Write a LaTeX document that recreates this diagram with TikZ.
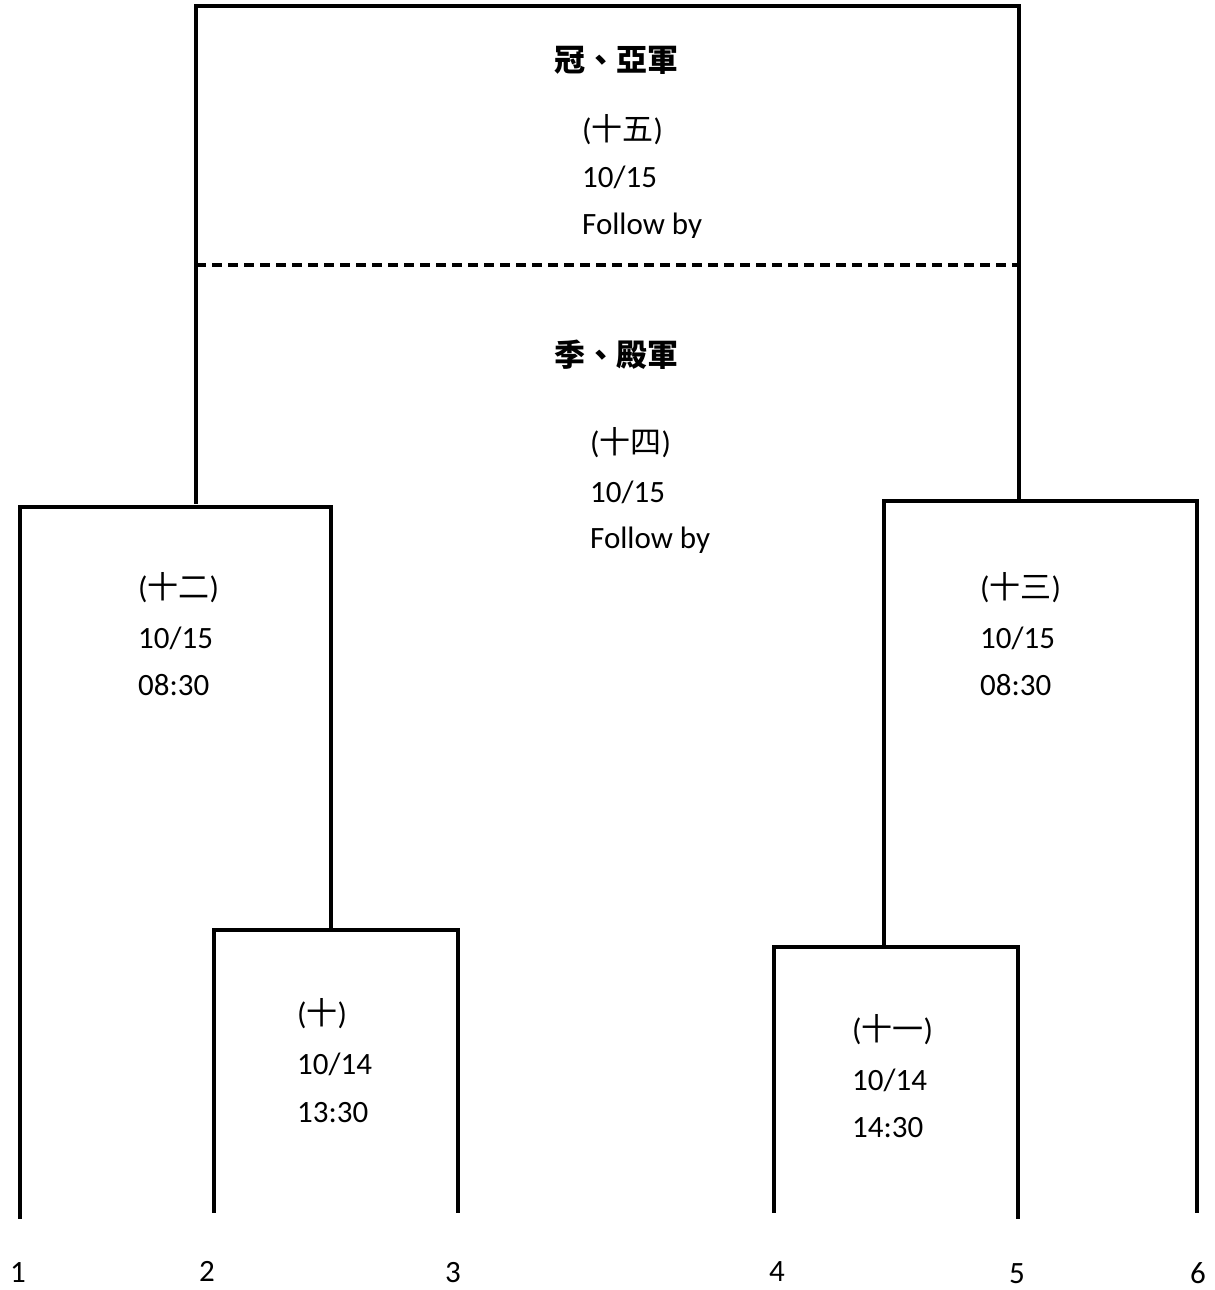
\documentclass[tikz,border=0pt]{standalone}
\usepackage{fontspec}
\setmainfont{Carlito}
\newfontfamily\cjk{Noto Sans CJK TC}
\begin{document}
\begin{tikzpicture}[x=1pt,y=-1pt,
  bline/.style={line width=3.5pt, line cap=rect},
  dline/.style={line width=3.5pt, dash pattern=on 10pt off 6pt},
  txt/.style={anchor=base west, inner sep=0pt, font=\fontsize{31}{48}\selectfont},
  head/.style={anchor=center, inner sep=0pt, font=\fontsize{31}{48}\selectfont\cjk\bfseries},
  lab/.style={anchor=base, inner sep=0pt, font=\fontsize{31}{48}\selectfont}]
\useasboundingbox[fill=white] (0,0) rectangle (1215,1290);

% top bracket
\coordinate (fL) at (196,6);
\coordinate (fR) at (1019,6);
\coordinate (fLb) at (196,502);
\coordinate (fRb) at (1019,499);
\draw[bline] (fLb) -- (fL) -- (fR) -- (fRb);
\coordinate (dL) at (196,265);
\coordinate (dR) at (1019,265);
\draw[dline] (dL) -- (dR);

% left semifinal (12)
\coordinate (a1) at (20,1217);
\coordinate (a2) at (20,507);
\coordinate (a3) at (331,507);
\coordinate (a4) at (331,928);
\draw[bline] (a1) -- (a2) -- (a3) -- (a4);

% match 10
\coordinate (b1) at (214,1211);
\coordinate (b2) at (214,930);
\coordinate (b3) at (458,930);
\coordinate (b4) at (458,1211);
\draw[bline] (b1) -- (b2) -- (b3) -- (b4);

% right semifinal (13)
\coordinate (c1) at (884,946);
\coordinate (c2) at (884,501);
\coordinate (c3) at (1197,501);
\coordinate (c4) at (1197,1211);
\draw[bline] (c1) -- (c2) -- (c3) -- (c4);

% match 11
\coordinate (d1) at (774,1211);
\coordinate (d2) at (774,947);
\coordinate (d3) at (1018,947);
\coordinate (d4) at (1018,1217);
\draw[bline] (d1) -- (d2) -- (d3) -- (d4);

% headings
\node[head] (h1) at (616,60) {冠、亞軍};
\node[head] (h2) at (616,355) {季、殿軍};

% match 15
\node[txt] (t15a) at (582,140) {({\cjk 十五})};
\node[txt] (t15b) at (582,187) {10/15};
\begin{scope}
\clip (560,190) rectangle (800,237);
\node[txt] (t15c) at (582,234) {Follow by};
\end{scope}

% match 14
\node[txt] (t14a) at (590,453) {({\cjk 十四})};
\node[txt] (t14b) at (590,502) {10/15};
\node[txt] (t14c) at (590,548) {Follow by};

% match 12
\node[txt] (t12a) at (138,598) {({\cjk 十二})};
\node[txt] (t12b) at (138,648) {10/15};
\node[txt] (t12c) at (138,695) {08:30};

% match 13
\node[txt] (t13a) at (980,598) {({\cjk 十三})};
\node[txt] (t13b) at (980,648) {10/15};
\node[txt] (t13c) at (980,695) {08:30};

% match 10
\node[txt] (t10a) at (297,1024) {({\cjk 十})};
\node[txt] (t10b) at (297,1074) {10/14};
\node[txt] (t10c) at (297,1122) {13:30};

% match 11
\node[txt] (t11a) at (852,1040) {({\cjk 十一})};
\node[txt] (t11b) at (852,1090) {10/14};
\node[txt] (t11c) at (852,1137) {14:30};

% team labels
\node[lab] (n1) at (18,1282) {1};
\node[lab] (n2) at (207,1281) {2};
\node[lab] (n3) at (453,1282) {3};
\node[lab] (n4) at (777,1281) {4};
\node[lab] (n5) at (1017,1283) {5};
\node[lab] (n6) at (1198,1283) {6};
\end{tikzpicture}
\end{document}
